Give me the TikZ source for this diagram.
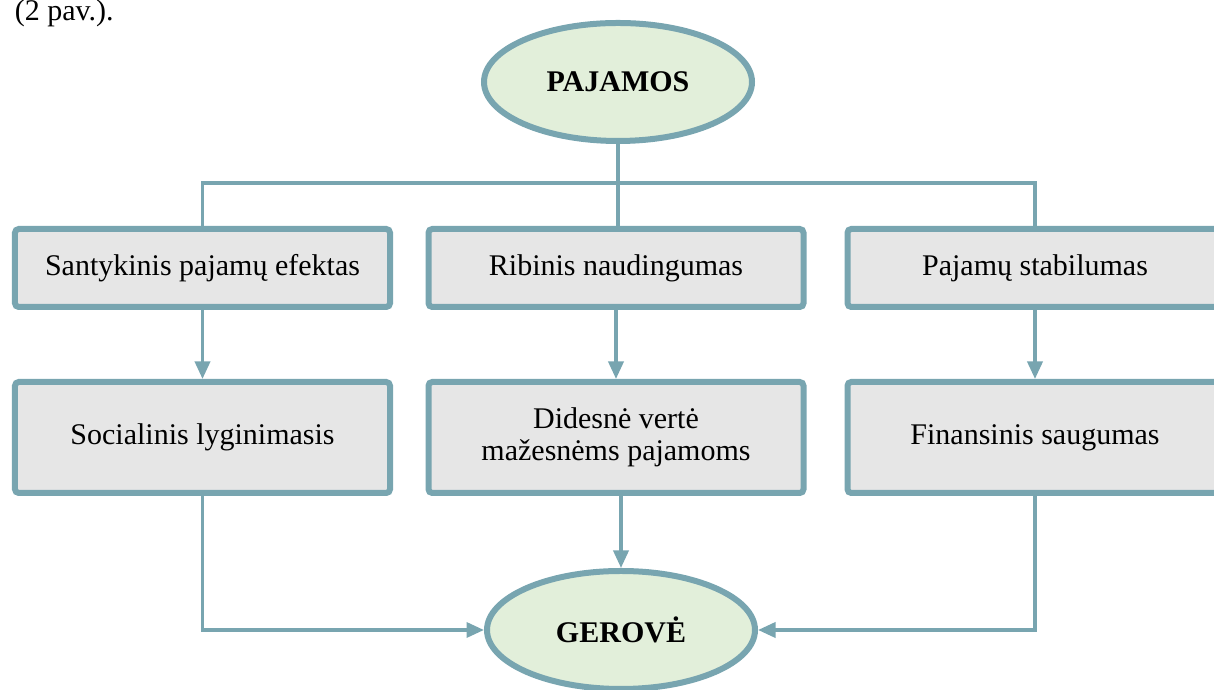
\documentclass[tikz,border=0pt]{standalone}
\usepackage{fontspec}
\setmainfont{Liberation Serif}
\usetikzlibrary{shapes.geometric,arrows.meta}

\definecolor{edge}{RGB}{120,165,176}
\definecolor{boxfill}{RGB}{230,230,230}
\definecolor{ovalfill}{RGB}{226,239,218}

\begin{document}
\begin{tikzpicture}[x=0.4pt,y=-0.4pt,
    >={Triangle[width=6pt,length=7pt]},
    box/.style={draw=edge, fill=boxfill, line width=2.4pt, rounded corners=1.5pt,
      minimum width=150pt, inner sep=0pt, align=center,
      font=\fontsize{12}{13}\selectfont},
    oval/.style={ellipse, draw=edge, fill=ovalfill, line width=2.4pt,
      minimum width=107.2pt, minimum height=47.2pt, inner sep=0pt,
      font=\fontsize{12}{13}\selectfont\bfseries},
    link/.style={draw=edge, line width=1.4pt}]
    \useasboundingbox (0,0) rectangle (1214,690);
    \node [anchor=base west, font=\fontsize{12}{13}\selectfont] (fig) at (6,21) {(2 pav.).};
    % ovals
    \node [oval] (paj) at (618,82) {PAJAMOS};
    \node [oval] (ger) at (621,630) {GEROVĖ};
    % first row
    \node [box, minimum height=31.2pt] (a1) at (202.5,268) {Santykinis pajamų efektas};
    \node [box, minimum height=31.2pt] (a2) at (616,268) {Ribinis naudingumas};
    \node [box, minimum height=31.2pt] (a3) at (1035,268) {Pajamų stabilumas};
    % second row
    \node [box, minimum height=44.4pt] (b1) at (202.5,437.5) {Socialinis lyginimasis};
    \node [box, minimum height=44.4pt] (b2) at (616,437.5) {Didesnė vertė\\mažesnėms pajamoms};
    \node [box, minimum height=44.4pt] (b3) at (1035,437.5) {Finansinis saugumas};
    \coordinate (split) at (618,183);
    \draw [link] (paj) -- (split);
    \draw [link] (a1.north) |- (split) -| (a3.north);
    \draw [link] (split) -- (split |- a2.north);
    \draw [link, ->] (a1) -- (b1);
    \draw [link, ->] (a2) -- (b2);
    \draw [link, ->] (a3) -- (b3);
    \draw [link, ->] (b1.south) |- (ger.west);
    \draw [link, ->] (b2.south -| ger.north) -- (ger.north);
    \draw [link, ->] (b3.south) |- (ger.east);
\end{tikzpicture}
\end{document}
